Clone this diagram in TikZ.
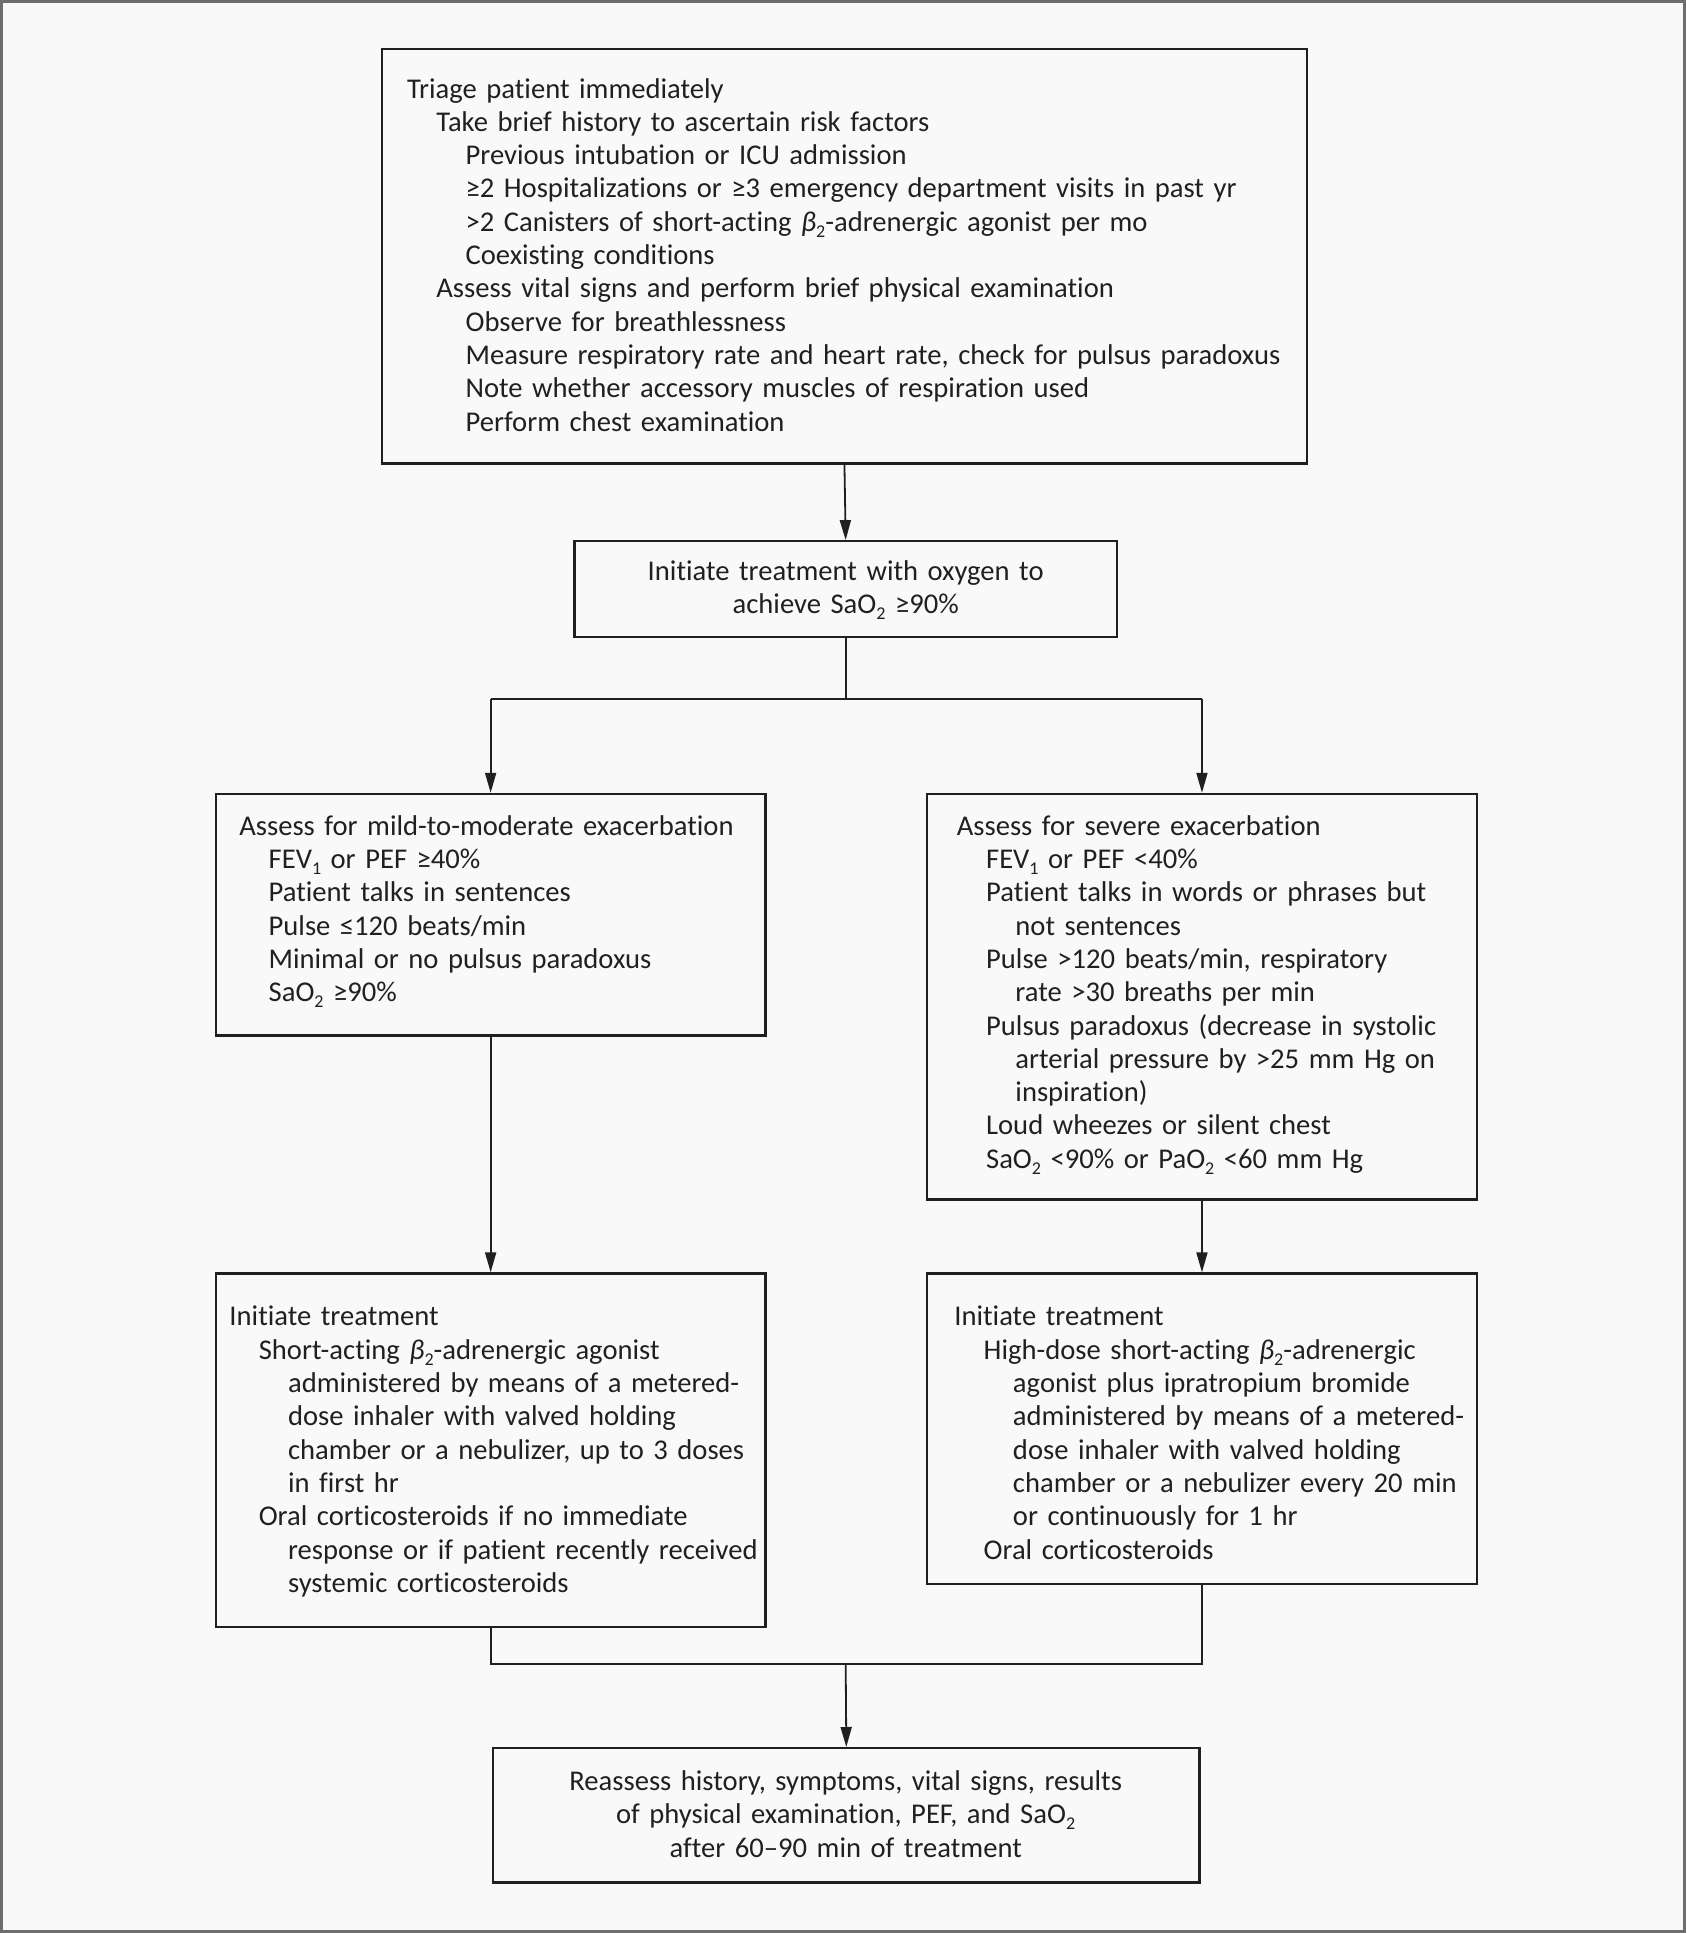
\documentclass[tikz,border=0pt]{standalone}
\usepackage{fontspec}
\setmainfont{Carlito}[Ligatures=NoCommon]
\usetikzlibrary{arrows.meta,fit}
\definecolor{linec}{HTML}{231F20}
\definecolor{pagebg}{HTML}{F9F9FA}
\definecolor{framec}{HTML}{6D6E70}
\newcommand\indA{\hspace*{29.3pt}}
\newcommand\indB{\hspace*{58.6pt}}
\newcommand\sbs[1]{\raisebox{-6pt}{\fontsize{18}{18}\selectfont #1}}
\newcommand\bet{\textit{β}\sbs{2}}
\begin{document}
\begin{tikzpicture}[x=1.2325pt,y=-1.2325pt,
  box/.style={draw=linec, line width=2.2pt, inner sep=0pt},
  conn/.style={draw=linec, line width=1.8pt},
  arr/.style={conn, -{Triangle[length=20pt,width=11pt]}},
  txt/.style={anchor=base west, inner sep=0pt, align=left, text width=1000pt,
    text=linec, font=\fontsize{28.6}{33.3}\selectfont},
  ctxt/.style={anchor=base, inner sep=0pt, align=center, text width=900pt,
    text=linec, font=\fontsize{28.6}{33.3}\selectfont}]
\useasboundingbox (0,0) rectangle (1368,1568);
\fill[pagebg] (0,0) rectangle (1368,1568);
\draw[framec, line width=3.2pt] (1.3,1.3) rectangle (1366.7,1566.7);

% boxes
\node[box, fit={(310,40) (1060,376)}] (b1) {};
\node[box, fit={(466,439) (906,517)}] (b2) {};
\node[box, fit={(175,644) (621,840)}] (b3) {};
\node[box, fit={(752,644) (1198,973)}] (b4) {};
\node[box, fit={(175,1033) (621,1320)}] (b5) {};
\node[box, fit={(752,1033) (1198,1285)}] (b6) {};
\node[box, fit={(400,1418) (973,1527)}] (b7) {};

% texts
\node[txt] (t1) at (330,79.5) {Triage patient immediately\\
\indA Take brief history to ascertain risk factors\\
\indB Previous intubation or ICU admission\\
\indB ≥2 Hospitalizations or ≥3 emergency department visits in past yr\\
\indB >2 Canisters of short-acting \bet-adrenergic agonist per mo\\
\indB Coexisting conditions\\
\indA Assess vital signs and perform brief physical examination\\
\indB Observe for breathlessness\\
\indB Measure respiratory rate and heart rate, check for pulsus paradoxus\\
\indB Note whether accessory muscles of respiration used\\
\indB Perform chest examination};

\node[ctxt] (t2) at (686,470.5) {Initiate treatment with oxygen to\\
achieve SaO\sbs{2} ≥90\%};

\node[txt] (t3) at (194,677.5) {Assess for mild-to-moderate exacerbation\\
\indA FEV\sbs{1} or PEF ≥40\%\\
\indA Patient talks in sentences\\
\indA Pulse ≤120 beats/min\\
\indA Minimal or no pulsus paradoxus\\
\indA SaO\sbs{2} ≥90\%};

\node[txt] (t4) at (776,677.5) {Assess for severe exacerbation\\
\indA FEV\sbs{1} or PEF <40\%\\
\indA Patient talks in words or phrases but\\
\indB not sentences\\
\indA Pulse >120 beats/min, respiratory\\
\indB rate >30 breaths per min\\
\indA Pulsus paradoxus (decrease in systolic\\
\indB arterial pressure by >25 mm Hg on\\
\indB inspiration)\\
\indA Loud wheezes or silent chest\\
\indA SaO\sbs{2} <90\% or PaO\sbs{2} <60 mm Hg};

\node[txt] (t5) at (186,1075.5) {Initiate treatment\\
\indA Short-acting \bet-adrenergic agonist\\
\indB administered by means of a metered-\\
\indB dose inhaler with valved holding\\
\indB chamber or a nebulizer, up to 3 doses\\
\indB in first hr\\
\indA Oral corticosteroids if no immediate\\
\indB response or if patient recently received\\
\indB systemic corticosteroids};

\node[txt] (t6) at (774,1075.5) {Initiate treatment\\
\indA High-dose short-acting \bet-adrenergic\\
\indB agonist plus ipratropium bromide\\
\indB administered by means of a metered-\\
\indB dose inhaler with valved holding\\
\indB chamber or a nebulizer every 20 min\\
\indB or continuously for 1 hr\\
\indA Oral corticosteroids};

\node[ctxt] (t7) at (686,1452.5) {Reassess history, symptoms, vital signs, results\\
of physical examination, PEF, and SaO\sbs{2}\\
after 60–90 min of treatment};

% connectors
\draw[arr] (b1.south) -- (b2.north);
\coordinate (j1) at (686,567);
\draw[conn] (b2.south) -- (j1);
\draw[conn] (j1 -| b3.north) -- (j1 -| b4.north);
\draw[arr] (j1 -| b3.north) -- (b3.north);
\draw[arr] (j1 -| b4.north) -- (b4.north);
\draw[arr] (b3.south) -- (b5.north);
\draw[arr] (b4.south) -- (b6.north);
\coordinate (j2) at (686,1350);
\draw[conn] (b5.south) -- (b5.south |- j2) -- (b6.south |- j2) -- (b6.south);
\draw[arr] (j2) -- (b7.north);
\end{tikzpicture}
\end{document}
